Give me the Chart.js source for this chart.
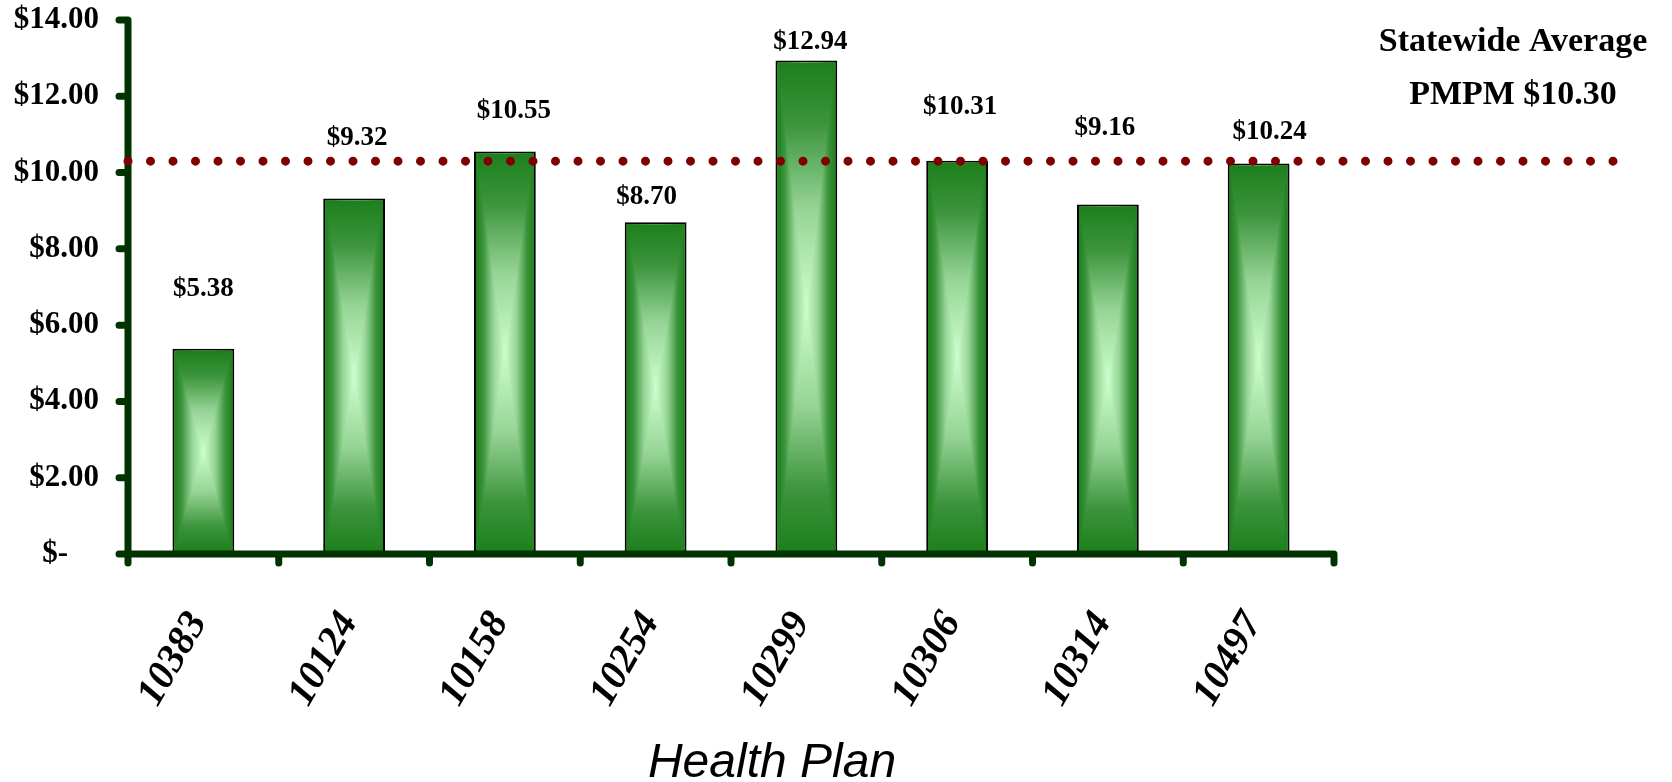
<!DOCTYPE html>
<html>
<head>
<meta charset="utf-8">
<title>PMPM by Health Plan</title>
<script src="https://cdn.jsdelivr.net/npm/chart.js@4.4.1/dist/chart.umd.min.js"></script>
<style>
    html, body { margin: 0; padding: 0; background: #ffffff; }
    canvas { display: block; }
</style>
</head>
<body>
<canvas id="pmpmChart" width="1672" height="782"></canvas>
<script>
// chart data
const healthPlans = ['10383', '10124', '10158', '10254', '10299', '10306', '10314', '10497'];
const pmpmValues = [5.38, 9.32, 10.55, 8.70, 12.94, 10.31, 9.16, 10.24];
const statewideAverage = 10.30;
const yTickValues = [0, 2, 4, 6, 8, 10, 12, 14];
const averageText = ['Statewide Average', 'PMPM $10.30'];
const axisTitle = 'Health Plan';

// the value labels were placed by hand in the original, so nudge them a bit (px)
const labelLift = [60, 60, 41, 25, 18, 54, 77, 31];
const labelShift = [0, 3, 9, -9, 4, 3, -3, 11];

const axisColor = '#003300';
const dotColor = '#7f0000';
const serif = '"Liberation Serif", "Times New Roman", serif';

function money(v) {
    if (v === 0) return '$-    ';
    return '$' + v.toFixed(2);
}

function addShadeStops(g, mirrored) {
    const stops = [[0, '#1c801c'], [0.25, '#3c943c'], [0.6, '#96d496'], [1, '#ccffcc']];
    stops.forEach(s => {
        if (mirrored) {
            g.addColorStop(s[0] / 2, s[1]);
            g.addColorStop(1 - s[0] / 2, s[1]);
        } else {
            g.addColorStop(s[0], s[1]);
        }
    });
}

// top / bottom triangle of the "from centre" bar shading
function shadeTriangle(ctx, pts, gx0, gy0, gx1, gy1) {
    const g = ctx.createLinearGradient(gx0, gy0, gx1, gy1);
    addShadeStops(g, false);
    ctx.fillStyle = g;
    ctx.beginPath();
    ctx.moveTo(pts[0][0], pts[0][1]);
    ctx.lineTo(pts[1][0], pts[1][1]);
    ctx.lineTo(pts[2][0], pts[2][1]);
    ctx.closePath();
    ctx.fill();
}

const decorPlugin = {
    id: 'decor',
    afterDatasetsDraw(chart) {
        const ctx = chart.ctx;
        const area = chart.chartArea;
        const xs = chart.scales.x;
        const ys = chart.scales.y;
        const bars = chart.getDatasetMeta(0).data;

        // gradient inside each bar
        ctx.save();
        bars.forEach(bar => {
            const p = bar.getProps(['x', 'y', 'base', 'width'], true);
            const x0 = p.x - p.width / 2 + 2, x1 = p.x + p.width / 2 - 2;
            const y0 = p.y + 2, y1 = p.base - 2;
            const cx = p.x, cy = (y0 + y1) / 2;
            // sides first as one rect, then top and bottom wedges on top of it
            const side = ctx.createLinearGradient(x0, 0, x1, 0);
            addShadeStops(side, true);
            ctx.fillStyle = side;
            ctx.fillRect(x0, y0, x1 - x0, y1 - y0);
            shadeTriangle(ctx, [[x0, y0], [x1, y0], [cx, cy]], cx, y0, cx, cy);
            shadeTriangle(ctx, [[x0, y1], [x1, y1], [cx, cy]], cx, y1, cx, cy);
        });
        ctx.restore();

        // axes with round ends
        ctx.save();
        ctx.strokeStyle = axisColor;
        ctx.lineWidth = 7;
        ctx.lineCap = 'round';
        ctx.beginPath();
        ctx.moveTo(area.left, ys.getPixelForValue(yTickValues[yTickValues.length - 1]));
        ctx.lineTo(area.left, area.bottom);
        yTickValues.forEach(v => {
            const py = ys.getPixelForValue(v);
            ctx.moveTo(area.left - 9, py);
            ctx.lineTo(area.left, py);
        });
        ctx.moveTo(area.left - 9, area.bottom);
        ctx.lineTo(area.right, area.bottom);
        const step = xs.getPixelForValue(1) - xs.getPixelForValue(0);
        for (let i = 0; i <= healthPlans.length; i++) {
            const px = xs.getPixelForValue(0) - step / 2 + i * step;
            ctx.moveTo(px, area.bottom);
            ctx.lineTo(px, area.bottom + 9);
        }
        ctx.stroke();
        ctx.restore();

        // statewide average, dotted line
        const avgY = ys.getPixelForValue(statewideAverage);
        ctx.save();
        ctx.strokeStyle = dotColor;
        ctx.lineWidth = 9;
        ctx.lineCap = 'round';
        ctx.setLineDash([0, 22.5]);
        ctx.beginPath();
        ctx.moveTo(area.left, avgY);
        ctx.lineTo(area.right + 300, avgY);
        ctx.stroke();
        ctx.restore();

        // value labels
        ctx.save();
        ctx.fillStyle = '#000';
        ctx.font = 'bold 27px ' + serif;
        ctx.textAlign = 'center';
        ctx.textBaseline = 'middle';
        bars.forEach((bar, i) => {
            ctx.fillText(money(pmpmValues[i]), bar.x + labelShift[i], bar.y - labelLift[i]);
        });

        // note at the right
        ctx.font = 'bold 34px ' + serif;
        ctx.fillText(averageText[0], area.right + 179, 42);
        ctx.fillText(averageText[1], area.right + 179, 95);

        // axis title
        ctx.font = 'italic 48px "Liberation Sans", Arial, sans-serif';
        ctx.textBaseline = 'alphabetic';
        ctx.fillText(axisTitle, 772, 777);
        ctx.restore();
    }
};

new Chart(document.getElementById('pmpmChart'), {
    type: 'bar',
    data: {
        labels: healthPlans,
        datasets: [{
            label: 'PMPM',
            data: pmpmValues,
            backgroundColor: '#1e821e',
            borderColor: '#000000',
            borderWidth: 2,
            borderSkipped: false,
            categoryPercentage: 1,
            barPercentage: 0.41
        }]
    },
    options: {
        responsive: false,
        animation: false,
        devicePixelRatio: 1,
        layout: { padding: { top: 20, right: 338, bottom: 0, left: 0 } },
        plugins: {
            legend: { display: false },
            tooltip: { enabled: false }
        },
        scales: {
            x: {
                grid: { display: false, drawTicks: false },
                border: { display: false },
                ticks: {
                    autoSkip: false,
                    minRotation: 60,
                    maxRotation: 60,
                    padding: 50,
                    labelOffset: -5,
                    color: '#000',
                    font: { family: serif, size: 40, style: 'italic', weight: 'bold' }
                },
                afterFit: scale => {
                    scale.height = 228;
                    scale.paddingLeft = 0;
                    scale.paddingRight = 0;
                }
            },
            y: {
                min: 0,
                max: 14,
                grid: { display: false, drawTicks: false },
                border: { display: false },
                afterBuildTicks: scale => {
                    scale.ticks = yTickValues.map(v => ({ value: v }));
                },
                ticks: {
                    padding: 29,
                    color: '#000',
                    font: { family: serif, size: 31, weight: 'bold' },
                    callback: v => money(v)
                },
                afterFit: scale => {
                    scale.width = 128;
                    scale.paddingTop = 0;
                    scale.paddingBottom = 0;
                }
            }
        }
    },
    plugins: [decorPlugin]
});
</script>
</body>
</html>
